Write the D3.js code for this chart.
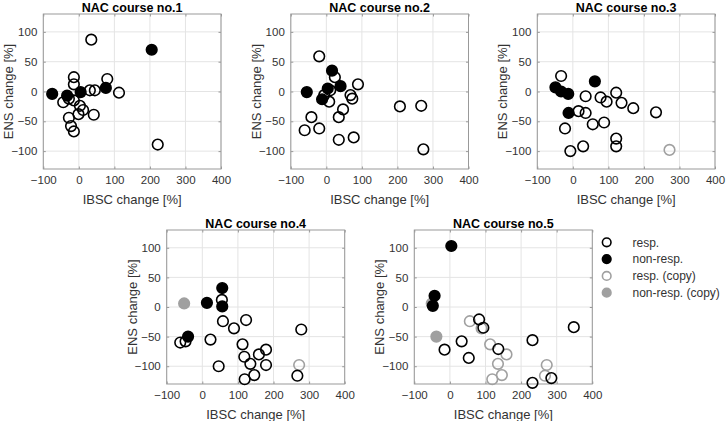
<!DOCTYPE html>
<html><head><meta charset="utf-8">
<script src="https://cdn.jsdelivr.net/npm/d3@7"></script>
<style>
body{margin:0;background:#fff;}
svg{display:block;font-family:"Liberation Sans",Arial,sans-serif;}
</style></head>
<body><svg id="c" width="727" height="421"></svg>
<script>
// ---- data ----
const xTicks = [-100, 0, 100, 200, 300, 400];
const yTicks = [-100, -50, 0, 50, 100];
const titles = ["NAC course no.1","NAC course no.2","NAC course no.3","NAC course no.4","NAC course no.5"];
const legendLabels = ["resp.","non-resp.","resp. (copy)","non-resp. (copy)"];

const c1Resp = [[35,87],[-14,24],[-14,12],[80,21],[31,2],[45,2],[113,-2],[-44,-18],[-14,-15],[3,-24],[12,-31],[-1,-38],[42,-39],[-28,-44],[-22,-58],[-14,-67],[222,-89],[-28,-12]];
const c1Non  = [[205,70],[-75,-4],[-33,-7],[5,-1],[76,6]];
const c1RespCopy = [];
const c1NonCopy = [];

const c2Resp = [[-20,59],[24,24],[89,12],[11,2],[-6,-6],[8,-17],[68,-6],[73,-12],[47,-30],[35,-43],[-42,-43],[-61,-65],[-20,-62],[35,-81],[77,-77],[207,-25],[267,-24],[273,-97]];
const c2Non  = [[16,35],[40,9],[-55,-1],[4,5],[-12,-13]];
const c2RespCopy = [];
const c2NonCopy = [];

const c3Resp = [[-33,26],[36,-8],[78,-10],[95,-17],[122,-2],[137,-19],[170,-28],[234,-35],[16,-33],[36,-36],[-22,-62],[56,-55],[88,-52],[122,-79],[122,-92],[29,-92],[-7,-100]];
const c3Non  = [[-49,7],[-33,0],[-13,-4],[62,17],[-12,-36]];
const c3RespCopy = [[272,-98]];
const c3NonCopy = [];

const c4Resp = [[55,12],[58,-24],[123,-22],[89,-36],[23,-55],[-47,-58],[-62,-60],[113,-63],[118,-84],[135,-96],[159,-80],[179,-72],[179,-98],[146,-115],[119,-122],[46,-100],[267,-116],[278,-38]];
const c4Non  = [[56,32],[13,7],[56,1],[-40,-50]];
const c4RespCopy = [[272,-98]];
const c4NonCopy = [[-51,6]];

const c5Resp = [[-15,-72],[33,-58],[53,-86],[82,-21],[94,-35],[136,-71],[232,-56],[232,-128],[285,-120],[348,-34]];
const c5Non  = [[4,103],[-43,19],[-48,2]];
const c5RespCopy = [[56,-24],[89,-36],[113,-63],[159,-80],[135,-96],[146,-115],[119,-122],[272,-98],[267,-116]];
const c5NonCopy = [[-51,6],[-38,-50]];

const courses = [
  {resp:c1Resp, non:c1Non, respCopy:c1RespCopy, nonCopy:c1NonCopy},
  {resp:c2Resp, non:c2Non, respCopy:c2RespCopy, nonCopy:c2NonCopy},
  {resp:c3Resp, non:c3Non, respCopy:c3RespCopy, nonCopy:c3NonCopy},
  {resp:c4Resp, non:c4Non, respCopy:c4RespCopy, nonCopy:c4NonCopy},
  {resp:c5Resp, non:c5Non, respCopy:c5RespCopy, nonCopy:c5NonCopy}
];

// ---- layout ----
const panels = [
  {x:43.3, y:14, w:177.7, h:155},
  {x:290.8, y:14, w:177.7, h:155},
  {x:537.3, y:14, w:177.7, h:155},
  {x:166.7, y:230, w:178, h:154},
  {x:414.3, y:230, w:178, h:154}
];

const svg = d3.select("#c");
const textCol = "#333";
const boxCol = "#999";
const gridCol = "#e4e4e4";
const grayCol = "#a0a0a0";
const R = 5.3;

panels.forEach((p, i) => {
  const g = svg.append("g").attr("transform", `translate(${p.x},${p.y})`);
  const x = d3.scaleLinear().domain([-100, 400]).range([0, p.w]);
  const y = d3.scaleLinear().domain([-130, 130]).range([p.h, 0]);

  // grid
  g.append("g").selectAll("line").data(xTicks).join("line")
    .attr("x1", d => x(d)).attr("x2", d => x(d)).attr("y1", 0).attr("y2", p.h)
    .attr("stroke", gridCol).attr("stroke-width", 1);
  g.append("g").selectAll("line").data(yTicks).join("line")
    .attr("y1", d => y(d)).attr("y2", d => y(d)).attr("x1", 0).attr("x2", p.w)
    .attr("stroke", gridCol).attr("stroke-width", 1);

  // axes with inward ticks
  const ax = g.append("g").attr("transform", `translate(0,${p.h})`)
    .call(d3.axisBottom(x).tickValues(xTicks).tickSizeInner(-2.5).tickSizeOuter(0).tickPadding(7));
  const ay = g.append("g")
    .call(d3.axisLeft(y).tickValues(yTicks).tickSizeInner(-2.5).tickSizeOuter(0).tickPadding(6));
  g.append("g").call(d3.axisTop(x).tickValues(xTicks).tickSizeInner(-2.5).tickSizeOuter(0).tickFormat(""));
  g.append("g").attr("transform", `translate(${p.w},0)`)
    .call(d3.axisRight(y).tickValues(yTicks).tickSizeInner(-2.5).tickSizeOuter(0).tickFormat(""));
  g.selectAll(".domain").remove();
  g.selectAll(".tick line").attr("stroke", boxCol);
  [ax, ay].forEach(a => a.selectAll("text").attr("fill", textCol).style("font-size", "11.5px")
    .style("font-family", '"Liberation Sans",Arial,sans-serif'));

  g.append("rect").attr("width", p.w).attr("height", p.h)
    .attr("fill", "none").attr("stroke", boxCol).attr("stroke-width", 1);

  // labels
  g.append("text").attr("x", p.w / 2).attr("y", -2.5).attr("text-anchor", "middle")
    .style("font-size", "12.5px").style("font-weight", "bold").attr("fill", "#000").text(titles[i]);
  g.append("text").attr("x", p.w / 2).attr("y", p.h + 34.5).attr("text-anchor", "middle")
    .style("font-size", "13px").attr("fill", textCol).text("IBSC change [%]");
  g.append("text").attr("transform", `translate(-30,${p.h / 2}) rotate(-90)`).attr("text-anchor", "middle")
    .style("font-size", "13px").attr("fill", textCol).text("ENS change [%]");

  const c = courses[i];
  const mg = g.append("g");
  const draw = (data, fill, stroke) => {
    mg.append("g").selectAll("circle").data(data).join("circle")
      .attr("cx", d => x(d[0])).attr("cy", d => y(d[1])).attr("r", R)
      .attr("fill", fill).attr("stroke", stroke).attr("stroke-width", 1.6);
  };
  draw(c.nonCopy, grayCol, grayCol);
  draw(c.respCopy, "none", grayCol);
  draw(c.resp, "none", "#000");
  draw(c.non, "#000", "#000");
});

// legend
const lg = svg.append("g");
const legStyles = [
  {fill:"none", stroke:"#000"},
  {fill:"#000", stroke:"#000"},
  {fill:"none", stroke:grayCol},
  {fill:grayCol, stroke:grayCol}
];
const ly = d3.scalePoint().domain(legendLabels).range([242.3, 292.7]);
lg.selectAll("circle").data(legendLabels).join("circle")
  .attr("cx", 606.7).attr("cy", d => ly(d)).attr("r", 4.3)
  .attr("fill", (d, i) => legStyles[i].fill).attr("stroke", (d, i) => legStyles[i].stroke).attr("stroke-width", 1.6);
lg.selectAll("text").data(legendLabels).join("text")
  .attr("x", 632.5).attr("y", d => ly(d) + 4.2)
  .style("font-size", "12px").attr("fill", textCol).text(d => d);
</script>
</body></html>
